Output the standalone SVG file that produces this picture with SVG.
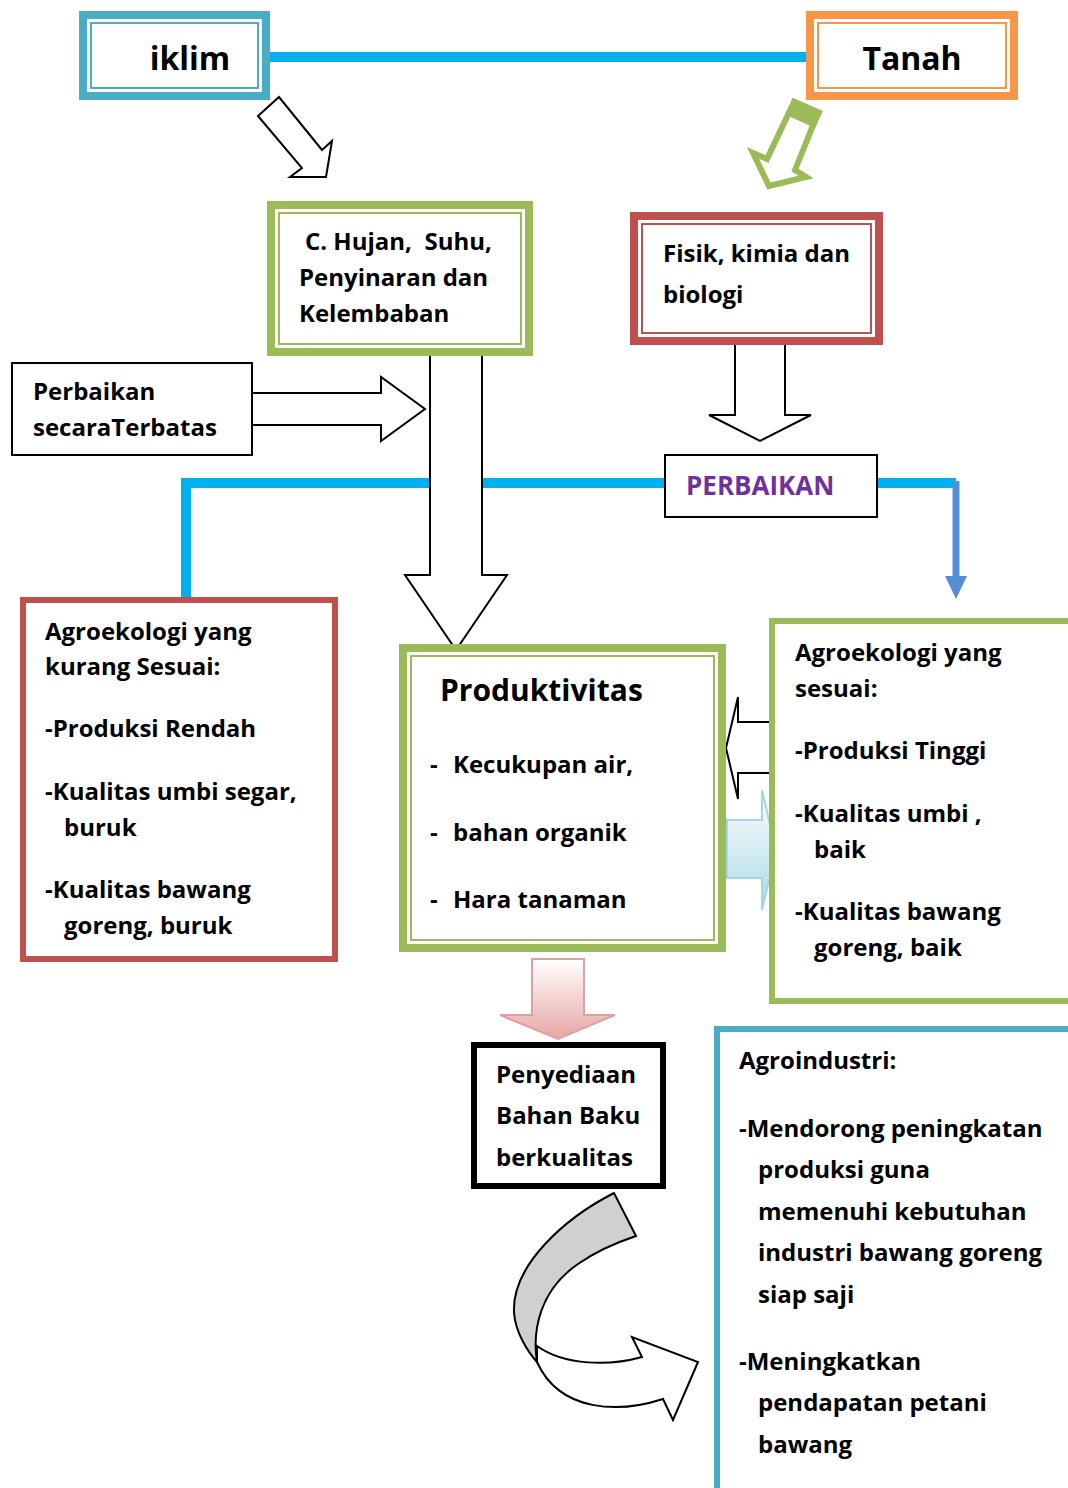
<svg xmlns="http://www.w3.org/2000/svg" width="1068" height="1488" viewBox="0 0 1068 1488">
<defs>
<style>
text{font-family:"Open Sans","Noto Sans","Liberation Sans",sans-serif;font-weight:bold;fill:#000;white-space:pre;}
.t{font-size:24px;}
.big{font-size:32px;}
.o{fill:#fff;stroke:#000;stroke-width:2;stroke-linejoin:miter;}
.cy{stroke:#00b0f0;stroke-width:10;fill:none;}
</style>
<linearGradient id="gb" x1="0" y1="0" x2="0" y2="1">
<stop offset="0" stop-color="#ffffff"/>
<stop offset="1" stop-color="#a9d8e6"/>
</linearGradient>
<linearGradient id="gp" x1="0" y1="0" x2="0" y2="1">
<stop offset="0" stop-color="#ffffff"/>
<stop offset="1" stop-color="#e6a6a4"/>
</linearGradient>
</defs>
<rect width="1068" height="1488" fill="#fff"/>

<g id="connectors">
<line class="cy" x1="270" y1="57" x2="810" y2="57"/>
<polyline class="cy" points="186,598 186,483 665,483"/>
<line class="cy" x1="877" y1="483" x2="956" y2="483"/>
<line x1="956" y1="481" x2="956" y2="578" stroke="#558ed5" stroke-width="7"/>
<polygon points="945,576 967,576 956,599" fill="#558ed5"/>
<polygon class="o" points="258,116 279,97 322,150 332,141 326,177 290,177 302,168"/>
<polygon points="794,102 818,113 795,170 806,177 769,186 753,153 767,159" fill="#fff" stroke="#9bbb59" stroke-width="6" stroke-linejoin="miter"/>
<polygon points="793,98 823,111 815,128 786,115" fill="#9bbb59"/>
<polygon class="o" points="252,393 381,393 381,377 425,409 381,441 381,425 252,425"/>
<polygon class="o" points="430,350 482,350 482,575 507,575 456,650 405,575 430,575"/>
<polygon class="o" points="735,338 785,338 785,415 811,415 760,441 709,415 735,415"/>
<polygon class="o" points="772,722 738,722 738,697 726,748 738,799 738,773 772,773"/>
<polygon points="727,820 762,820 762,790 776,850 762,910 762,878 727,878" fill="url(#gb)" stroke="#a5d5e2" stroke-width="2"/>
<polygon points="532,959 584,959 584,1015 615,1015 558,1039 500,1015 532,1015" fill="url(#gp)" stroke="#e0a0a0" stroke-width="2"/>
<path d="M614,1193 C565,1218 512,1265 514,1312 C515,1332 528,1352 537,1362 C532,1330 540,1290 578,1264 C598,1250 618,1242 636,1236 Z" fill="#d0d0d0" stroke="#000" stroke-width="2"/>
<path d="M537,1346 C565,1366 610,1366 642,1357 L632,1337 L698,1362 L673,1420 L663,1399 C620,1413 560,1413 537,1362 Z" fill="#fff" stroke="#000" stroke-width="2"/>
</g>

<g id="iklim">
<rect x="83" y="15" width="183" height="81" fill="#fff" stroke="#4bacc6" stroke-width="8"/>
<rect x="91" y="23" width="167" height="65" fill="none" stroke="#4bacc6" stroke-width="2"/>
<text class="big" x="190" y="70" text-anchor="middle">iklim</text>
</g>

<g id="tanah">
<rect x="810" y="15" width="204" height="81" fill="#fff" stroke="#f79646" stroke-width="8"/>
<rect x="818" y="23" width="188" height="65" fill="none" stroke="#f79646" stroke-width="2"/>
<text class="big" x="912" y="70" text-anchor="middle">Tanah</text>
</g>

<g id="iklim-detail">
<rect x="271" y="205" width="258" height="147" fill="#fff" stroke="#9bbb59" stroke-width="8"/>
<rect x="279" y="213" width="242" height="131" fill="none" stroke="#9bbb59" stroke-width="2"/>
<text class="t" x="305" y="250">C. Hujan,  Suhu,</text>
<text class="t" x="299" y="286">Penyinaran dan</text>
<text class="t" x="299" y="322">Kelembaban</text>
</g>

<g id="tanah-detail">
<rect x="634" y="216" width="245" height="125" fill="#fff" stroke="#c0504d" stroke-width="8"/>
<rect x="642" y="224" width="229" height="109" fill="none" stroke="#c0504d" stroke-width="2"/>
<text class="t" x="663" y="262">Fisik, kimia dan</text>
<text class="t" x="663" y="303">biologi</text>
</g>

<g id="perbaikan-terbatas">
<rect x="12" y="363" width="240" height="92" fill="#fff" stroke="#000" stroke-width="2"/>
<text class="t" x="33" y="400">Perbaikan</text>
<text class="t" x="33" y="436">secaraTerbatas</text>
</g>

<g id="perbaikan">
<rect x="665" y="455" width="212" height="62" fill="#fff" stroke="#000" stroke-width="2"/>
<text x="686" y="495" style="font-size:26px;fill:#7030a0">PERBAIKAN</text>
</g>

<g id="agro-kurang">
<rect x="23" y="600" width="312" height="359" fill="#fff" stroke="#c0504d" stroke-width="6"/>
<text class="t" x="45" y="640">Agroekologi yang</text>
<text class="t" x="45" y="675">kurang Sesuai:</text>
<text class="t" x="45" y="737">-Produksi Rendah</text>
<text class="t" x="45" y="800">-Kualitas umbi segar,</text>
<text class="t" x="64" y="836">buruk</text>
<text class="t" x="45" y="898">-Kualitas bawang</text>
<text class="t" x="64" y="934">goreng, buruk</text>
</g>

<g id="produktivitas">
<rect x="403" y="648" width="319" height="300" fill="#fff" stroke="#9bbb59" stroke-width="8"/>
<rect x="411" y="656" width="303" height="284" fill="none" stroke="#9bbb59" stroke-width="2"/>
<text x="440" y="701" style="font-size:30px">Produktivitas</text>
<text class="t" x="430" y="773">-</text><text class="t" x="453" y="773">Kecukupan air,</text>
<text class="t" x="430" y="841">-</text><text class="t" x="453" y="841">bahan organik</text>
<text class="t" x="430" y="908">-</text><text class="t" x="453" y="908">Hara tanaman</text>
</g>

<g id="agro-sesuai">
<rect x="772" y="621" width="300" height="380" fill="#fff" stroke="#9bbb59" stroke-width="6"/>
<text class="t" x="795" y="661">Agroekologi yang</text>
<text class="t" x="795" y="697">sesuai:</text>
<text class="t" x="795" y="759">-Produksi Tinggi</text>
<text class="t" x="795" y="822">-Kualitas umbi ,</text>
<text class="t" x="814" y="858">baik</text>
<text class="t" x="795" y="920">-Kualitas bawang</text>
<text class="t" x="814" y="956">goreng, baik</text>
</g>

<g id="penyediaan">
<rect x="474" y="1045" width="189" height="141" fill="#fff" stroke="#000" stroke-width="6"/>
<text class="t" x="496" y="1083">Penyediaan</text>
<text class="t" x="496" y="1124">Bahan Baku</text>
<text class="t" x="496" y="1166">berkualitas</text>
</g>

<g id="agroindustri">
<rect x="717" y="1029" width="360" height="470" fill="#fff" stroke="#4bacc6" stroke-width="6"/>
<text class="t" x="739" y="1069">Agroindustri:</text>
<text class="t" x="739" y="1137">-Mendorong peningkatan</text>
<text class="t" x="758" y="1178">produksi guna</text>
<text class="t" x="758" y="1220">memenuhi kebutuhan</text>
<text class="t" x="758" y="1261">industri bawang goreng</text>
<text class="t" x="758" y="1303">siap saji</text>
<text class="t" x="739" y="1370">-Meningkatkan</text>
<text class="t" x="758" y="1411">pendapatan petani</text>
<text class="t" x="758" y="1453">bawang</text>
</g>
</svg>
